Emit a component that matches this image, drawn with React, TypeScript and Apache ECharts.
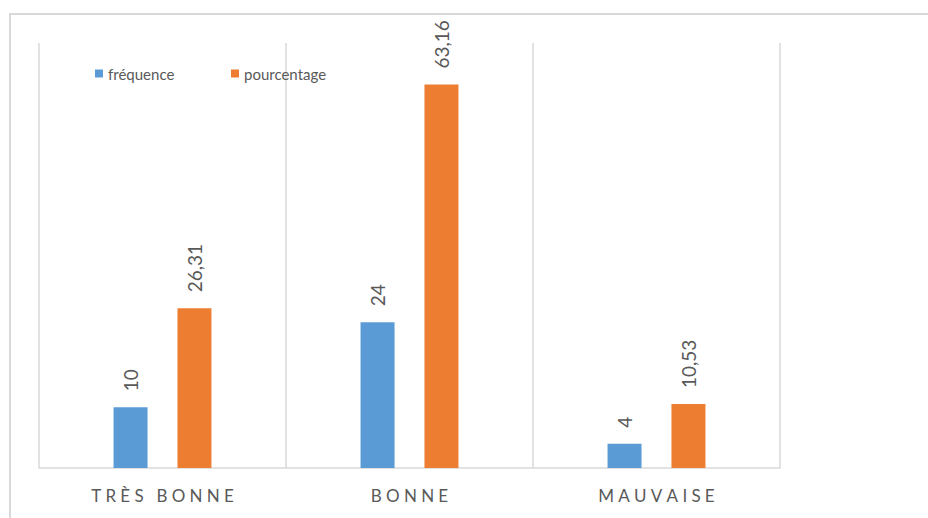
import React, { useEffect, useRef } from "react";
import * as echarts from "echarts";

const categories = ["TRÈS BONNE", "BONNE", "MAUVAISE"];
const frequence = [10, 24, 4];
const pourcentage = [26.31, 63.16, 10.53];

const FONT = "Lato, 'Liberation Sans', sans-serif";
const GRAY = "#595959";
const LINE = "#d9d9d9";

// widen the tracking of the category names
const spaced = (s: string) => s.split("").join("\u2009\u2009");
const frNum = (v: number) => String(v).replace(".", ",");

export default function App() {
  const ref = useRef<HTMLDivElement>(null);

  useEffect(() => {
    if (!ref.current) return;
    const chart = echarts.init(ref.current, null, { renderer: "svg" });
    const label = {
      show: true,
      position: "top",
      rotate: 90,
      align: "left",
      verticalAlign: "middle",
      distance: 16,
      fontSize: 19,
      fontFamily: FONT,
      color: GRAY,
      formatter: (p: any) => frNum(p.value),
    };
    const legendText = { color: GRAY, fontSize: 15, fontFamily: FONT };
    chart.setOption({
      animation: false,
      backgroundColor: "#ffffff",
      textStyle: { fontFamily: FONT },
      graphic: [
        {
          type: "rect",
          shape: { x: 10, y: 14, width: 940, height: 530 },
          style: { fill: "none", stroke: LINE, lineWidth: 2 },
          silent: true,
        },
      ],
      legend: [
        {
          data: ["fréquence"],
          left: 90,
          top: 61,
          itemWidth: 8,
          itemHeight: 8,
          icon: "rect",
          textStyle: legendText,
        },
        {
          data: ["pourcentage"],
          left: 226,
          top: 61,
          itemWidth: 8,
          itemHeight: 8,
          icon: "rect",
          textStyle: legendText,
        },
      ],
      grid: { left: 39, right: 148, top: 43, bottom: 50, containLabel: false },
      xAxis: {
        type: "category",
        data: categories,
        boundaryGap: true,
        axisLine: { show: true, lineStyle: { color: LINE, width: 1.5 } },
        axisTick: { show: false },
        splitLine: { show: true, lineStyle: { color: LINE, width: 1.5 } },
        axisLabel: {
          color: GRAY,
          fontSize: 17,
          fontFamily: FONT,
          margin: 19,
          formatter: (v: string) => spaced(v),
        },
      },
      yAxis: {
        type: "value",
        min: 0,
        max: 70,
        show: false,
        splitLine: { show: false },
      },
      series: [
        {
          name: "fréquence",
          type: "bar",
          data: frequence,
          barWidth: 34,
          barGap: "88%",
          itemStyle: { color: "#5b9bd5" },
          label,
        },
        {
          name: "pourcentage",
          type: "bar",
          data: pourcentage,
          barWidth: 34,
          barGap: "88%",
          itemStyle: { color: "#ed7d31" },
          label,
        },
      ],
    });
    return () => chart.dispose();
  }, []);

  return (
    <div
      ref={ref}
      style={{ position: "fixed", left: 0, top: 0, width: 928, height: 518 }}
    />
  );
}
